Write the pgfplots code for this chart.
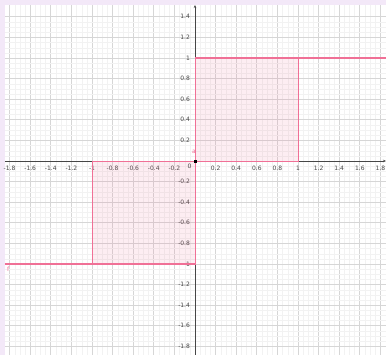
\documentclass[border=0pt]{standalone}
\usepackage{fontspec}
\setmainfont{DejaVu Sans}
\usepackage{pgfplots}
\pgfplotsset{compat=1.18}
\usetikzlibrary{arrows.meta}
\definecolor{lav}{RGB}{243,232,248}
\definecolor{pinkline}{RGB}{240,112,150}
\definecolor{majgrid}{RGB}{214,214,214}
\definecolor{mingrid}{RGB}{242,242,242}
\definecolor{axgray}{RGB}{70,70,70}
\begin{document}
\begin{tikzpicture}[x=1pt,y=1pt]
\useasboundingbox (0,0) rectangle (386,355);
\fill[lav] (0,0) rectangle (386,355);
\begin{scope}
\clip (0,0) rectangle (386,355);
\begin{axis}[
  at={(5pt,0pt)}, anchor=south west,
  width=381pt, height=350pt, scale only axis,
  xmin=-1.8447, xmax=1.8544, ymin=-1.8835, ymax=1.5146,
  axis lines=middle,
  axis line style={axgray, line width=0.6pt, -{Stealth[length=3pt,width=2.5pt]}},
  axis background/.style={fill=white},
  xtick={-1.8,-1.6,...,1.81}, ytick={-1.8,-1.6,...,1.41},
  minor tick num=3,
  grid=both,
  major grid style={majgrid, line width=0.7pt},
  minor grid style={mingrid, line width=0.35pt},
  major tick length=0pt, minor tick length=0pt,
  tick label style={font=\fontsize{6}{7}\selectfont, text=axgray},
  /pgf/number format/assume math mode=true,
  /pgf/number format/.cd, fixed, precision=1, /pgfplots/.cd,
  xticklabel style={anchor=north, yshift=-1.5pt},
  yticklabel style={anchor=east, xshift=-1.5pt},
  clip=true,
]
% filled rectangles
\addplot[draw=pinkline, line width=0.6pt, fill=pinkline, fill opacity=0.12] coordinates {(0,0) (1,0) (1,1) (0,1)} -- cycle;
\addplot[draw=pinkline, line width=0.6pt, fill=pinkline, fill opacity=0.12] coordinates {(-1,-1) (0,-1) (0,0) (-1,0)} -- cycle;
% sign function
\addplot[pinkline, line width=1.6pt] coordinates {(-1.8447,-1) (0,-1)};
\addplot[pinkline, line width=1.6pt] coordinates {(0,1) (1.8544,1)};
% origin point
\addplot[only marks, mark=square*, mark size=1pt, black] coordinates {(0,0)};
\node[anchor=north east, font=\fontsize{6}{7}\selectfont, text=axgray] at (axis cs:0,0) {0};
\node[font=\fontsize{6}{7}\selectfont, text=pinkline] at (axis cs:-0.01,0.085) {a};
\node[font=\fontsize{6}{7}\selectfont, text=pinkline] at (axis cs:-1.815,-1.05) {f};
\end{axis}
\end{scope}
\end{tikzpicture}
\end{document}
